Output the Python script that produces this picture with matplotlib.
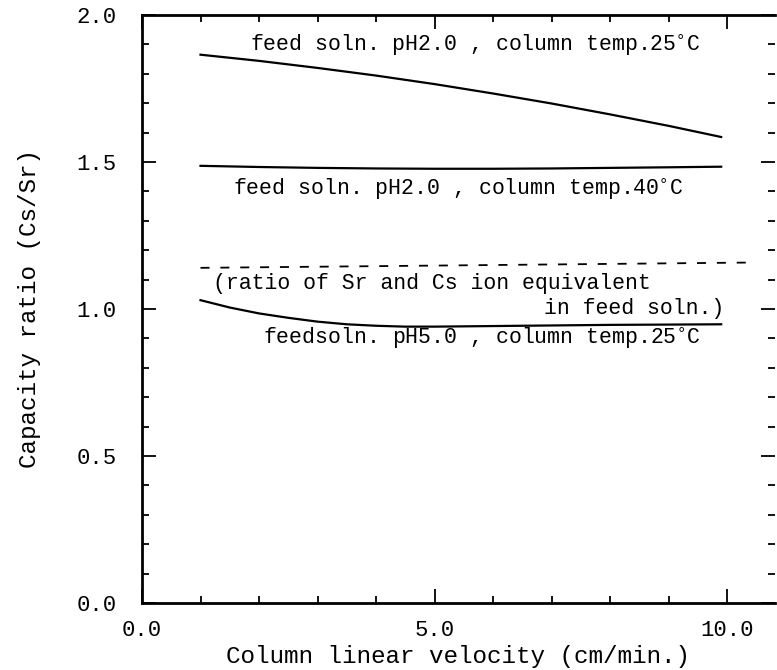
import numpy as np
import matplotlib.pyplot as plt
from matplotlib.ticker import MultipleLocator

# ---------------------------------------------------------
# Data
# ---------------------------------------------------------
vel = [1.0, 2.0, 3.0, 4.0, 5.0, 6.0, 7.0, 8.0, 9.0, 9.9]
ph2_25c = [1.865, 1.844, 1.820, 1.794, 1.765, 1.733, 1.699, 1.662, 1.623, 1.585]
ph2_40c = [1.487, 1.483, 1.480, 1.478, 1.477, 1.477, 1.478, 1.480, 1.482, 1.484]

vel_ph5 = [1.0, 1.5, 2.0, 2.5, 3.0, 3.5, 4.0, 4.5, 5.0, 6.0, 7.0, 8.0, 9.0, 9.9]
ph5_25c = [1.030, 1.005, 0.985, 0.970, 0.957, 0.948, 0.943, 0.940, 0.940,
           0.942, 0.944, 0.946, 0.947, 0.948]

vel_eq = [1.0, 10.4]
ion_equiv = [1.140, 1.158]

mono = 'Liberation Mono'

# ---------------------------------------------------------
# Plot
# ---------------------------------------------------------
fig = plt.figure(figsize=(7.77, 6.70), dpi=100)
ax = fig.add_axes([142/777, 1 - 603/670, (775 - 142)/777, (603 - 15)/670])

ax.plot(vel, ph2_25c, color='black', linewidth=1.6)
ax.plot(vel, ph2_40c, color='black', linewidth=1.6)
ax.plot(vel_ph5, ph5_25c, color='black', linewidth=1.6)
ax.plot(vel_eq, ion_equiv, color='black', linewidth=1.3, dashes=(5, 6))

txt = dict(fontsize=15.5, family=mono, color='black')
ax.text(1.85, 1.898, 'feed soln. pH2.0 , column temp.25$^{\\circ}$C', va='center', **txt)
ax.text(1.55, 1.405, 'feed soln. pH2.0 , column temp.40$^{\\circ}$C', va='center', **txt)
ax.text(1.22, 1.088, '(ratio of Sr and Cs ion equivalent', va='center', **txt)
ax.text(9.95, 1.003, 'in feed soln.)', va='center', ha='right', **txt)
ax.text(2.07, 0.900, 'feedsoln. pH5.0 , column temp.25$^{\\circ}$C', va='center', **txt)

ax.set_xlim(0, 10.82)
ax.set_ylim(0, 2.0)

ax.set_xticks([0.0, 5.0, 10.0])
ax.set_xticklabels(['0.0', '5.0', '10.0'])
ax.set_yticks([0.0, 0.5, 1.0, 1.5, 2.0])
ax.set_yticklabels(['0.0', '0.5', '1.0', '1.5', '2.0'])
ax.xaxis.set_minor_locator(MultipleLocator(1.0))
ax.yaxis.set_minor_locator(MultipleLocator(0.1))

ax.tick_params(which='both', direction='in', top=True, right=True, width=1.3)
ax.tick_params(which='major', length=10)
ax.tick_params(which='minor', length=5)
ax.tick_params(axis='x', pad=12)
ax.tick_params(axis='y', pad=18)
for lab in ax.get_xticklabels() + ax.get_yticklabels():
    lab.set_family(mono)
    lab.set_fontsize(16)

for side in ['left', 'bottom', 'top']:
    ax.spines[side].set_linewidth(2.0)
ax.spines['right'].set_visible(False)

ax.set_xlabel('Column linear velocity (cm/min.)', family=mono, fontsize=17.5, labelpad=3)
ax.set_ylabel('Capacity ratio (Cs/Sr)', family=mono, fontsize=17.5, labelpad=26)

fig.savefig('out.png', dpi=100)
